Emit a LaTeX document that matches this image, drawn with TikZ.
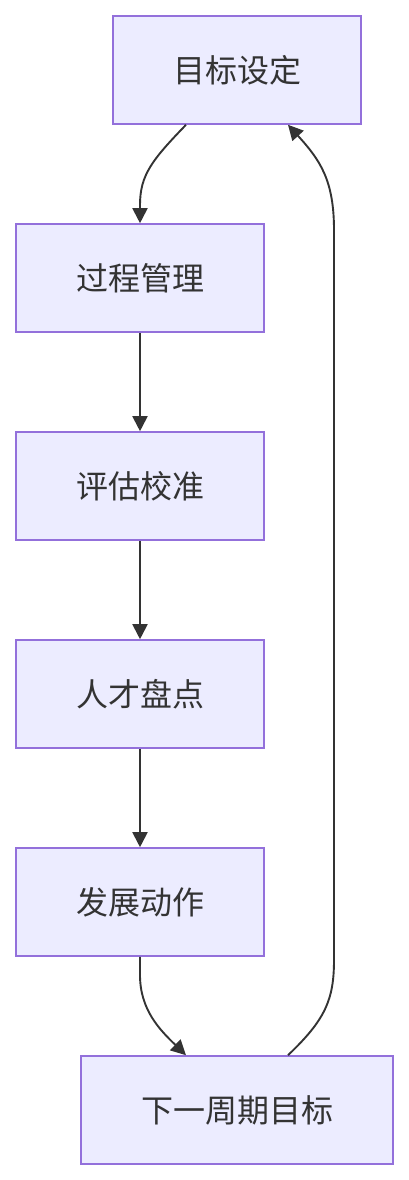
\documentclass[tikz,border=0pt]{standalone}
\usepackage{fontspec}
\newfontfamily\cjk{Noto Sans CJK SC}
\usetikzlibrary{arrows.meta}
\definecolor{boxfill}{HTML}{ECECFF}
\definecolor{boxline}{HTML}{9370DB}
\definecolor{ink}{HTML}{333333}
\tikzset{
  box/.style={draw=boxline, fill=boxfill, line width=1.6pt, minimum height=108pt, inner sep=0pt, font=\cjk\fontsize{32}{38}\selectfont, text=ink},
  conn/.style={draw=ink, line width=1.9pt, -{Triangle[length=15pt,width=15pt]}}
}
\begin{document}
\begin{tikzpicture}[x=1pt,y=-1pt]
\useasboundingbox (0,0) rectangle (409,1180);
\node[box, minimum width=248pt] (n1) at (237,70) {目标设定};
\node[box, minimum width=248pt] (n2) at (140,278) {过程管理};
\node[box, minimum width=248pt] (n3) at (140,486) {评估校准};
\node[box, minimum width=248pt] (n4) at (140,694) {人才盘点};
\node[box, minimum width=248pt] (n5) at (140,902) {发展动作};
\node[box, minimum width=312pt] (n6) at (237,1110) {下一周期目标};
\coordinate (r1) at (334,960);
\coordinate (r2) at (334,230);
\draw[conn] ([xshift=-51pt]n1.south) .. controls (152,160) and (140,175) .. (140,205) -- (n2.north);
\draw[conn] (n2) -- (n3);
\draw[conn] (n3) -- (n4);
\draw[conn] (n4) -- (n5);
\draw[conn] (n5.south) -- (140,975) .. controls (140,1010) and (160,1030) .. ([xshift=-51pt]n6.north);
\draw[conn] ([xshift=51pt]n6.north) .. controls (325,1020) and (334,1000) .. (r1) -- (r2) .. controls (334,180) and (320,160) .. ([xshift=51pt]n1.south);
\end{tikzpicture}
\end{document}
